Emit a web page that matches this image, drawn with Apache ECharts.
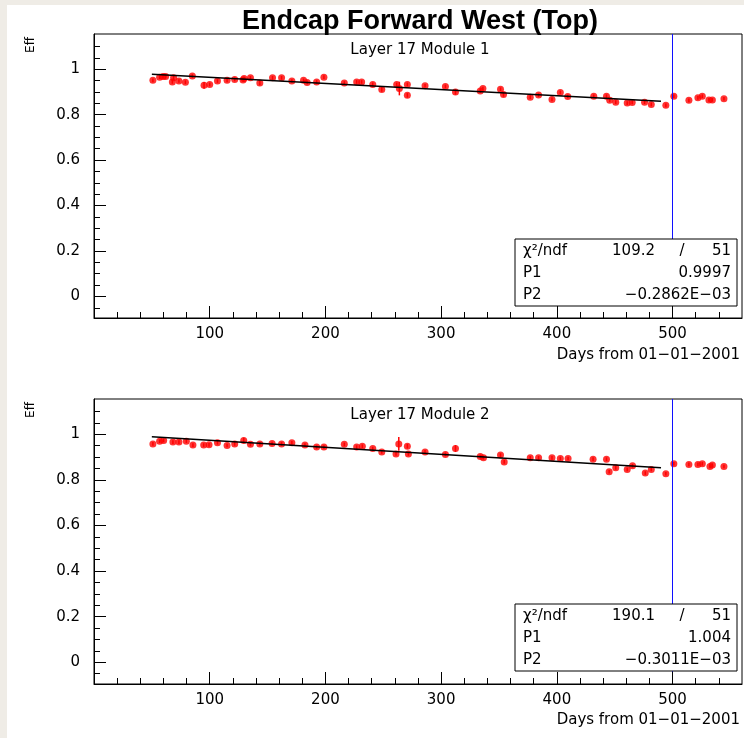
<!DOCTYPE html>
<html>
<head>
<meta charset="utf-8">
<title>Endcap Forward West (Top)</title>
<script src="https://cdn.jsdelivr.net/npm/echarts@6.0.0/dist/echarts.min.js"></script>
<style>
  html, body { margin: 0; padding: 0; background: #fff; }
  #chart { width: 744px; height: 738px; }
</style>
</head>
<body>
<div id="chart"></div>
<script>
// Layer 17 Module 1 (days, efficiency, error)
const days1 = [50.9, 56.7, 59.6, 61.9, 67.7, 68.8, 73.4, 79.0, 85.0, 95.1, 100.0, 106.7, 115.0, 121.6, 128.8,
  129.7, 135.2, 143.3, 154.3, 162.1, 171.0, 181.1, 184.2, 192.4, 198.7, 216.3, 227.0, 231.3, 240.9, 248.7,
  261.6, 263.9, 270.8, 270.8, 286.1, 303.7, 312.4, 333.8, 336.1, 351.3, 353.9, 377.0, 384.2, 395.8, 403.0,
  409.4, 431.9, 442.9, 445.7, 450.9, 460.8, 465.1, 475.8, 481.6, 494.2, 501.1, 514.1, 521.9, 525.7, 531.4,
  534.4, 544.4]
const eff1 = [0.951, 0.965, 0.968, 0.968, 0.944, 0.962, 0.948, 0.943, 0.970, 0.929, 0.933, 0.948, 0.951, 0.955, 0.953,
  0.959, 0.962, 0.939, 0.962, 0.962, 0.948, 0.951, 0.942, 0.944, 0.965, 0.939, 0.944, 0.944, 0.933, 0.911,
  0.933, 0.915, 0.933, 0.885, 0.927, 0.924, 0.900, 0.904, 0.915, 0.912, 0.889, 0.877, 0.886, 0.867, 0.898,
  0.880, 0.881, 0.881, 0.863, 0.855, 0.851, 0.854, 0.855, 0.845, 0.841, 0.881, 0.863, 0.874, 0.881, 0.865,
  0.865, 0.870]
const err1 = [0.008, 0.008, 0.008, 0.008, 0.008, 0.008, 0.008, 0.008, 0.008, 0.015, 0.008, 0.008, 0.008, 0.008, 0.008,
  0.008, 0.008, 0.010, 0.008, 0.008, 0.008, 0.008, 0.008, 0.008, 0.008, 0.008, 0.008, 0.008, 0.008, 0.010,
  0.008, 0.030, 0.008, 0.010, 0.008, 0.008, 0.012, 0.008, 0.008, 0.008, 0.010, 0.008, 0.008, 0.008, 0.008,
  0.008, 0.008, 0.008, 0.008, 0.008, 0.008, 0.008, 0.008, 0.008, 0.008, 0.008, 0.008, 0.008, 0.008, 0.008,
  0.008, 0.008]
const fitX1 = [50, 490]
const fitY1 = [0.978, 0.859]
const stat1 = { chi2: '109.2', ndf: '51', p1: '0.9997', p2: '\u22120.2862E\u221203' }

// Layer 17 Module 2
const days2 = [50.9, 56.7, 60.2, 68.2, 73.4, 79.8, 85.5, 94.8, 99.4, 106.7, 115.0, 121.6, 129.4, 135.2, 143.3,
  153.9, 162.1, 171.0, 182.3, 192.4, 198.7, 216.3, 227.0, 231.9, 240.9, 248.7, 261.0, 263.4, 270.8, 271.7,
  286.1, 303.7, 312.4, 333.8, 336.6, 351.3, 354.5, 377.0, 384.2, 395.8, 403.0, 409.7, 431.3, 442.9, 445.2,
  450.9, 460.8, 465.4, 476.4, 481.6, 494.2, 501.1, 514.1, 521.9, 525.7, 532.3, 534.4, 544.4]
const eff2 = [0.958, 0.970, 0.973, 0.966, 0.966, 0.970, 0.953, 0.953, 0.954, 0.963, 0.951, 0.958, 0.973, 0.956, 0.958,
  0.960, 0.958, 0.963, 0.953, 0.944, 0.944, 0.956, 0.944, 0.948, 0.938, 0.923, 0.914, 0.958, 0.948, 0.914,
  0.923, 0.912, 0.938, 0.903, 0.897, 0.909, 0.879, 0.897, 0.897, 0.897, 0.894, 0.894, 0.891, 0.891, 0.836,
  0.853, 0.846, 0.862, 0.830, 0.846, 0.827, 0.871, 0.868, 0.868, 0.871, 0.859, 0.865, 0.859]
const err2 = [0.008, 0.008, 0.008, 0.008, 0.008, 0.008, 0.008, 0.008, 0.008, 0.008, 0.008, 0.008, 0.012, 0.008, 0.008,
  0.008, 0.008, 0.008, 0.008, 0.008, 0.008, 0.008, 0.008, 0.008, 0.008, 0.008, 0.008, 0.030, 0.010, 0.008,
  0.008, 0.008, 0.015, 0.008, 0.008, 0.008, 0.008, 0.008, 0.008, 0.008, 0.008, 0.008, 0.008, 0.008, 0.008,
  0.008, 0.008, 0.008, 0.008, 0.008, 0.008, 0.008, 0.008, 0.008, 0.008, 0.008, 0.008, 0.008]
const fitX2 = [50, 490]
const fitY2 = [0.989, 0.853]
const stat2 = { chi2: '190.1', ndf: '51', p1: '1.004', p2: '\u22120.3011E\u221203' }

// axes
const xTicks = [100, 200, 300, 400, 500]
const xMinorTicks = [20, 40, 60, 80, 120, 140, 160, 180, 220, 240, 260, 280, 320, 340, 360, 380,
  420, 440, 460, 480, 520, 540]
const yTicks = [0, 0.2, 0.4, 0.6, 0.8, 1]
const yMinorTicks = [-0.05, 0.05, 0.1, 0.15, 0.25, 0.3, 0.35, 0.45, 0.5, 0.55, 0.65, 0.7, 0.75,
  0.85, 0.9, 0.95, 1.05, 1.1]
const cutDay = 500

const font = 'DejaVu Sans'
const chart = echarts.init(document.getElementById('chart'))

const grids = [
  { left: 94, top: 34, width: 648, height: 284 },
  { left: 94, top: 399, width: 648, height: 285 },
]

// one axis with line + labels, then two tick-only axes (major, minor)
function axisSet(kind, g, min, max, labels, ticks, minor, margin) {
  const pos = kind === 'x' ? 'bottom' : 'left'
  const base = { type: 'value', gridIndex: g, min: min, max: max, position: pos, splitLine: { show: false }, z: 5 }
  const tickOnly = (vals, len) => Object.assign({}, base, {
    axisLine: { show: false, onZero: false },
    axisTick: { show: true, inside: true, length: len, customValues: vals, lineStyle: { color: '#000', width: 1 } },
    axisLabel: { show: false },
  })
  return [
    Object.assign({}, base, {
      axisLine: { show: true, onZero: false, lineStyle: { color: '#000' } },
      axisTick: { show: false },
      axisLabel: { customValues: labels, margin: margin, color: '#000', fontFamily: font, fontSize: 15 },
    }),
    tickOnly(ticks, 12),
    tickOnly(minor, 6),
  ]
}

function panelSeries(g, days, eff, err, fitX, fitY) {
  const ax = g * 3
  return [
    {
      type: 'custom',
      xAxisIndex: ax, yAxisIndex: ax,
      data: days.map((d, i) => [d, eff[i], err[i]]),
      encode: { x: 0, y: 1 },
      renderItem(params, api) {
        const x = api.value(0), y = api.value(1), e = api.value(2)
        const a = api.coord([x, y + e])
        const b = api.coord([x, y - e])
        return {
          type: 'line',
          shape: { x1: a[0], y1: a[1], x2: b[0], y2: b[1] },
          style: { stroke: '#ff0000', lineWidth: 1.5 },
        }
      },
      silent: true,
    },
    {
      type: 'line',
      xAxisIndex: ax, yAxisIndex: ax,
      data: fitX.map((d, i) => [d, fitY[i]]),
      showSymbol: false,
      lineStyle: { color: '#000', width: 1.5 },
      silent: true,
    },
    {
      type: 'scatter',
      xAxisIndex: ax, yAxisIndex: ax,
      data: days.map((d, i) => [d, eff[i]]),
      symbol: 'circle',
      symbolSize: 7,
      itemStyle: { color: '#ff0000' },
      silent: true,
      markLine: {
        silent: true,
        symbol: ['none', 'none'],
        label: { show: false },
        lineStyle: { color: '#1010ff', width: 1, type: 'solid' },
        data: [{ xAxis: cutDay }],
      },
    },
  ]
}

function text(x, y, str, opts) {
  return {
    type: 'text', x: x, y: y,
    style: Object.assign({ text: str, fill: '#000', font: '15px "' + font + '"', verticalAlign: 'middle' }, opts || {}),
  }
}

function statBox(top, s) {
  return [
    { type: 'rect', shape: { x: 515, y: top, width: 222, height: 67 },
      style: { fill: '#fff', stroke: '#000', lineWidth: 1 }, z: 100 },
    Object.assign(text(523, top + 12, 'χ²/ndf'), { z: 101 }),
    Object.assign(text(655, top + 12, s.chi2, { align: 'right' }), { z: 101 }),
    Object.assign(text(682, top + 12, '/', { align: 'center' }), { z: 101 }),
    Object.assign(text(731, top + 12, s.ndf, { align: 'right' }), { z: 101 }),
    Object.assign(text(523, top + 34, 'P1'), { z: 101 }),
    Object.assign(text(731, top + 34, s.p1, { align: 'right' }), { z: 101 }),
    Object.assign(text(523, top + 56, 'P2'), { z: 101 }),
    Object.assign(text(731, top + 56, s.p2, { align: 'right' }), { z: 101 }),
  ]
}

const graphics = [
  { type: 'rect', shape: { x: 0, y: 0, width: 7, height: 738 }, style: { fill: '#efece6' } },
  { type: 'rect', shape: { x: 0, y: 0, width: 744, height: 5 }, style: { fill: '#efece6' } },
  text(420, 22, 'Endcap Forward West (Top)', { align: 'center', font: 'bold 27px "Liberation Sans"' }),
  text(420, 50, 'Layer 17 Module 1', { align: 'center' }),
  text(420, 415, 'Layer 17 Module 2', { align: 'center' }),
  Object.assign(text(31, 45, 'Eff', { align: 'center', font: '12px "' + font + '"' }), { rotation: Math.PI / 2 }),
  Object.assign(text(31, 410, 'Eff', { align: 'center', font: '12px "' + font + '"' }), { rotation: Math.PI / 2 }),
  text(740, 355, 'Days from 01\u221201\u22122001', { align: 'right' }),
  text(740, 720, 'Days from 01\u221201\u22122001', { align: 'right' }),
].concat(statBox(239, stat1), statBox(604, stat2))

chart.setOption({
  backgroundColor: '#fff',
  animation: false,
  grid: grids.map(g => Object.assign({
    show: true, borderColor: '#000', borderWidth: 1, outerBoundsMode: 'none',
  }, g)),
  xAxis: axisSet('x', 0, 0, 560, xTicks, xTicks, xMinorTicks, 9)
    .concat(axisSet('x', 1, 0, 560, xTicks, xTicks, xMinorTicks, 9)),
  yAxis: axisSet('y', 0, -0.095, 1.155, yTicks, yTicks, yMinorTicks, 14)
    .concat(axisSet('y', 1, -0.095, 1.155, yTicks, yTicks, yMinorTicks, 14)),
  series: panelSeries(0, days1, eff1, err1, fitX1, fitY1).concat(panelSeries(1, days2, eff2, err2, fitX2, fitY2)),
  graphic: graphics,
})
</script>
</body>
</html>
